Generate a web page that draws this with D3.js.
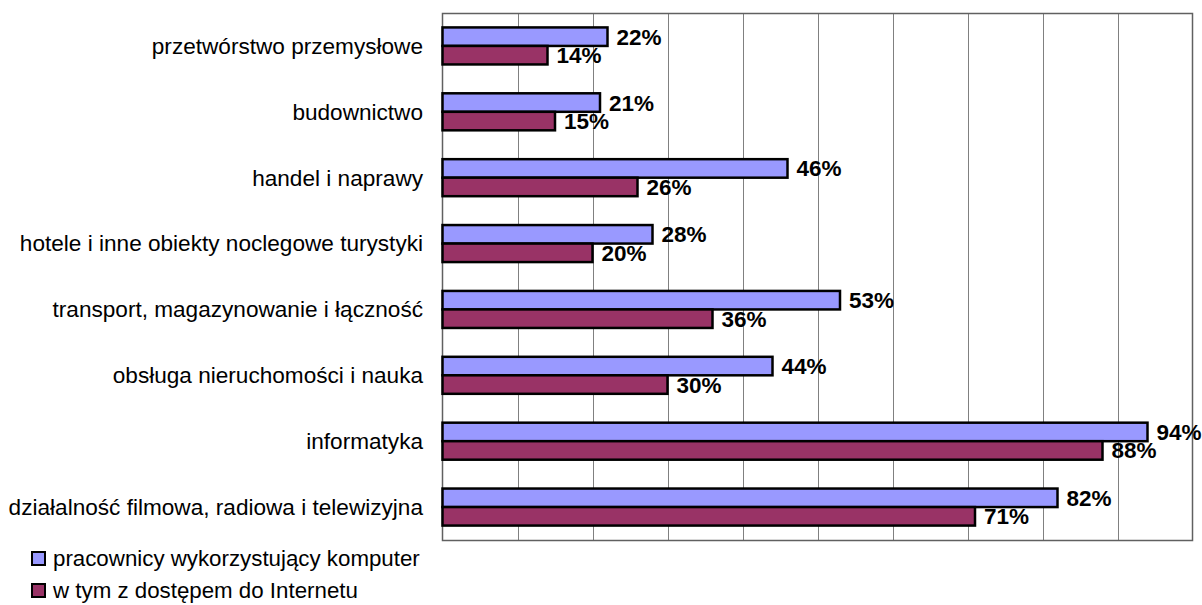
<!DOCTYPE html>
<html><head><meta charset="utf-8">
<script src="https://cdn.jsdelivr.net/npm/d3@7"></script>
<style>html,body{margin:0;padding:0;background:#fff;}svg{display:block;font-family:Arial,"Liberation Sans",sans-serif;}</style>
</head><body>
<svg id="c" width="1202" height="605"></svg>
<script>
const categories = ["przetwórstwo przemysłowe","budownictwo","handel i naprawy","hotele i inne obiekty noclegowe turystyki","transport, magazynowanie i łączność","obsługa nieruchomości i nauka","informatyka","działalność filmowa, radiowa i telewizyjna"];
const computerUsers = [22,21,46,28,53,44,94,82];
const internetAccess = [14,15,26,20,36,30,88,71];
const seriesNames = ["pracownicy wykorzystujący komputer","w tym z dostępem do Internetu"];
const seriesColors = ["#9999FF","#993366"];
const gridTicks = [0,10,20,30,40,50,60,70,80,90,100];

const svg = d3.select("#c");
const L = 442.5, R = 1192.5, T = 13, B = 540;
const x = d3.scaleLinear().domain([0,100]).range([L,R]);
const y = d3.scaleBand().domain(categories).range([T,B]).paddingInner(0.438).paddingOuter(0.219);
const ys = d3.scaleBand().domain([0,1]).range([0,y.bandwidth()]);

// grid
svg.append("g").selectAll("line").data(gridTicks.slice(1,-1)).join("line")
  .attr("x1",d=>Math.round(x(d))+0.5).attr("x2",d=>Math.round(x(d))+0.5)
  .attr("y1",T).attr("y2",B).attr("stroke","#808080").attr("stroke-width",1);
svg.append("rect").attr("x",L).attr("y",T+0.5).attr("width",R-L).attr("height",B-T)
  .attr("fill","none").attr("stroke","#606060").attr("stroke-width",1.5);

const data = categories.map((c,i)=>({c, v:[computerUsers[i], internetAccess[i]]}));
const g = svg.append("g").selectAll("g").data(data).join("g")
  .attr("transform",d=>`translate(0,${y(d.c)})`);
g.selectAll("rect").data(d=>d.v.map((v,s)=>({v,s}))).join("rect")
  .attr("x",x(0)).attr("y",d=>ys(d.s)).attr("width",d=>x(d.v)-x(0)).attr("height",ys.bandwidth())
  .attr("fill",d=>seriesColors[d.s]).attr("stroke","#000").attr("stroke-width",2.5);
g.selectAll("text").data(d=>d.v.map((v,s)=>({v,s}))).join("text")
  .attr("x",d=>x(d.v)+9).attr("y",d=>ys(d.s)+ys.bandwidth()/2+8)
  .attr("font-size",22.5).attr("font-weight","bold").attr("fill","#000")
  .text(d=>d.v+"%");

// category labels
svg.append("g").selectAll("text").data(categories).join("text")
  .attr("x",423).attr("y",d=>y(d)+y.bandwidth()/2+7.9)
  .attr("text-anchor","end").attr("font-size",22.6).attr("fill","#000").text(d=>d);

// legend
const lg = svg.append("g").selectAll("g").data(seriesNames).join("g")
  .attr("transform",(d,i)=>`translate(32,${552+i*32})`);
lg.append("rect").attr("width",13).attr("height",13)
  .attr("fill",(d,i)=>seriesColors[i]).attr("stroke","#000").attr("stroke-width",2);
lg.append("text").attr("x",21).attr("y",14).attr("font-size",22.3).attr("fill","#000").text(d=>d);
</script>
</body></html>
